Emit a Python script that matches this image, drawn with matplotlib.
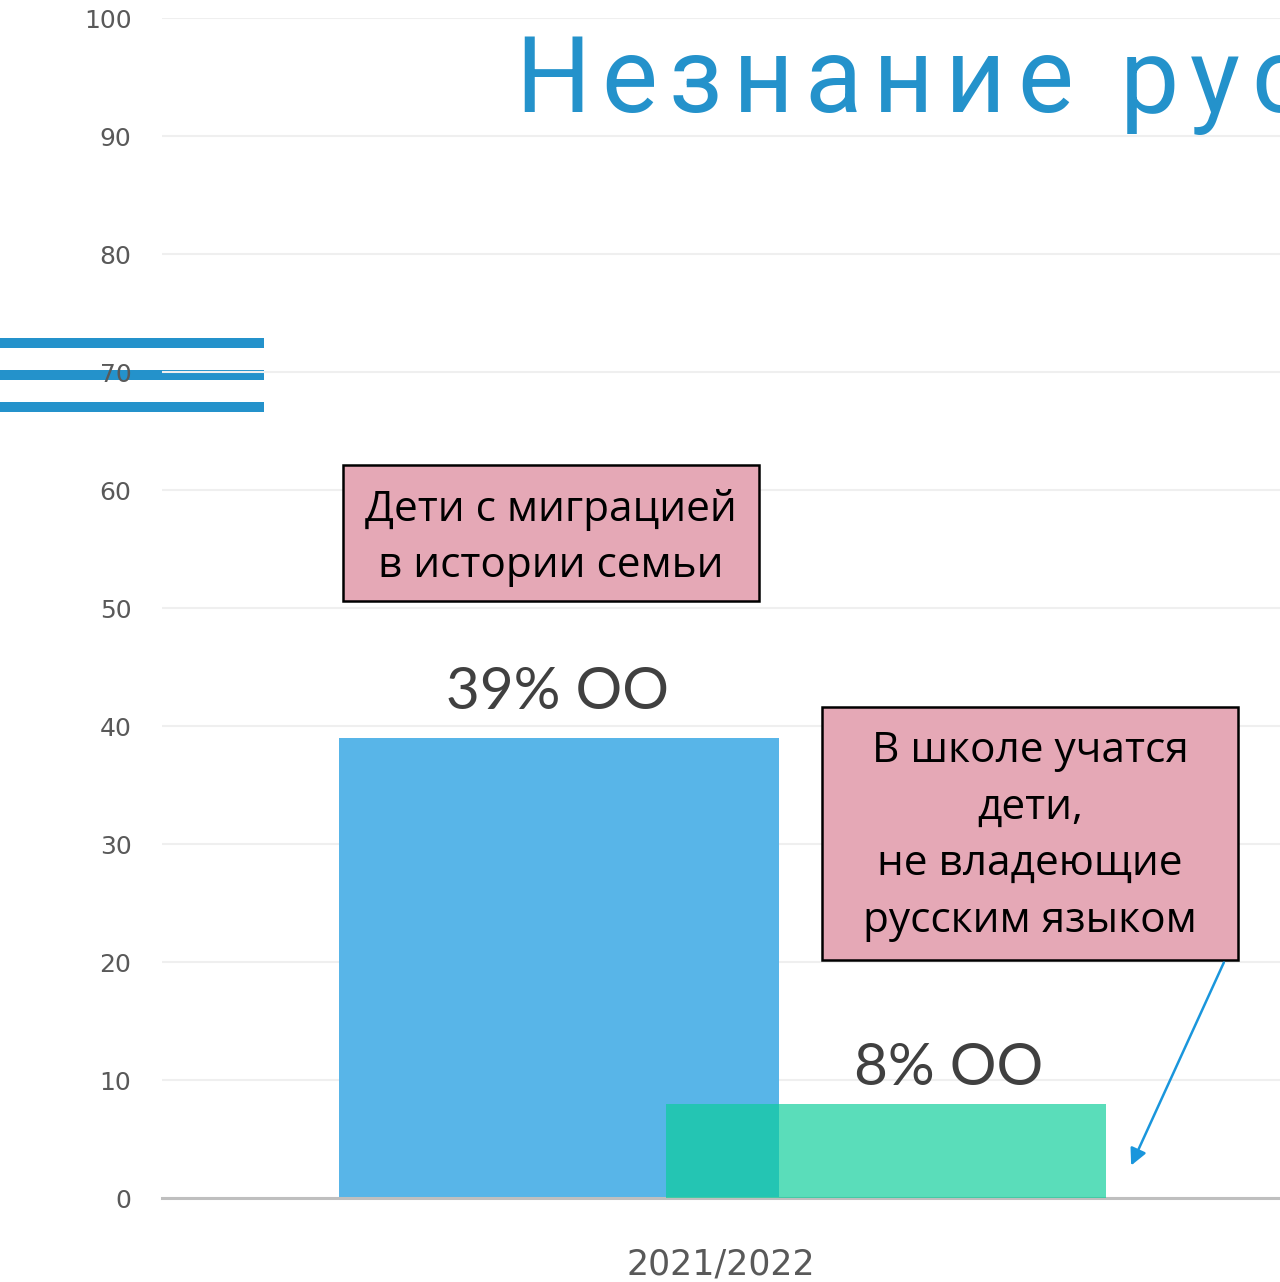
import matplotlib
matplotlib.use("Agg")
import matplotlib.pyplot as plt
from matplotlib.patches import Rectangle, FancyArrowPatch

# data
categories = ['2021/2022']
migration_share = [39]
non_russian_share = [8]
bar_labels = ['39% ОО', '8% ОО']
yticks = list(range(0, 101, 10))

title = 'Незнание русского языка'
note_migration = 'Дети с миграцией\nв истории семьи'
note_language = 'В школе учатся\nдети,\nне владеющие\nрусским языком'

W, H = 1280, 1282
BLUE = '#58b5e8'
GREEN = '#0cce9a'
ACCENT = '#2492cb'


def fx(px):
    return px / W


def fy(py):
    return 1 - py / H


fig = plt.figure(figsize=(12.8, 12.82), dpi=100)
fig.patch.set_facecolor('white')
ax = fig.add_axes([fx(162), fy(1198), fx(W - 162), 1180 / H])
ax.set_facecolor('none')

x = list(range(len(categories)))
width = 0.787
off = 0.293
ax.bar([i - off + 0.003 for i in x], migration_share, width, color=BLUE, zorder=2)
ax.bar([i + off + 0.003 for i in x], non_russian_share, width, color=GREEN, alpha=0.68, zorder=3)

# value labels
ax.text(x[0] - off, migration_share[0] + 2.4, bar_labels[0], ha='center', va='baseline',
        fontsize=42, color='#404040', family='Lato', zorder=4)
ax.text(x[0] + off + 0.115, non_russian_share[0] + 1.6, bar_labels[1], ha='center', va='baseline',
        fontsize=42, color='#404040', family='Lato', zorder=4)

ax.set_xlim(-1, 1)
ax.set_ylim(0, 100)
ax.set_yticks(yticks)
ax.set_xticks(x)
ax.set_xticklabels(categories, fontsize=25, color='#595959')
ax.tick_params(axis='x', length=0, pad=36)
ax.tick_params(axis='y', length=0, pad=22, labelsize=18, labelcolor='#595959')
ax.yaxis.grid(True, color='#efefef', linewidth=1.5, zorder=0)
ax.set_axisbelow(True)
for s in ['left', 'right', 'top']:
    ax.spines[s].set_visible(False)
ax.spines['bottom'].set_color('#bfbfbf')
ax.spines['bottom'].set_linewidth(2.2)

# decorative stripes on the left
for top in [338, 370, 402]:
    fig.add_artist(Rectangle((0, fy(top + 10)), fx(264), 10 / H, transform=fig.transFigure,
                             facecolor=ACCENT, edgecolor='none', zorder=-1))

# title with wide letter spacing, drawn char by char (runs off the right edge)
fig.canvas.draw()
renderer = fig.canvas.get_renderer()
cx = 515
for ch in title:
    if cx > W - 20:
        break
    if ch == ' ':
        cx += 36
        continue
    t = fig.text(fx(cx), fy(112), ch, fontsize=76, color=ACCENT, family='Roboto',
                 ha='left', va='baseline')
    cx += t.get_window_extent(renderer).width + 11

# annotation boxes
fig.add_artist(Rectangle((fx(343), fy(601)), fx(416), 136 / H, transform=fig.transFigure,
                         facecolor='#e5a8b6', edgecolor='black', linewidth=1.8, zorder=5))
fig.text(fx(551), fy(538), note_migration, ha='center', va='center', fontsize=30.5,
         family='Open Sans', color='black', linespacing=1.45, zorder=6)

fig.add_artist(Rectangle((fx(822), fy(960)), fx(416), 253 / H, transform=fig.transFigure,
                         facecolor='#e5a8b6', edgecolor='black', linewidth=1.8, zorder=5))
fig.text(fx(1030), fy(836), note_language, ha='center', va='center', fontsize=30.5,
         family='Open Sans', color='black', linespacing=1.45, zorder=6)

fig.add_artist(FancyArrowPatch((fx(1225), fy(960)), (fx(1130), fy(1168)),
                               transform=fig.transFigure, arrowstyle='-|>',
                               mutation_scale=25, color='#1a96dc', linewidth=1.8, zorder=6))

fig.savefig('out.png', dpi=100, facecolor='white')
